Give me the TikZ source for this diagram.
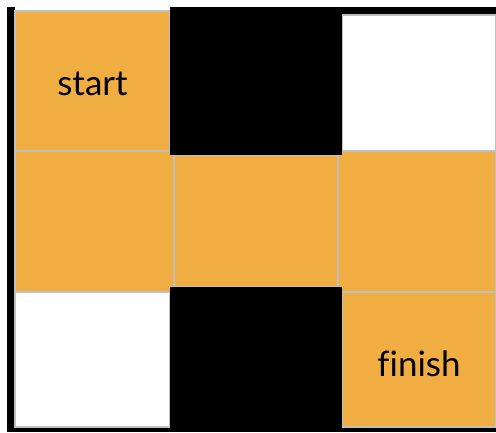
\documentclass[tikz,border=0pt]{standalone}
\usepackage{fontspec}
\setmainfont[Ligatures=NoCommon]{Lato}
\definecolor{cellorange}{HTML}{F0AD41}
\definecolor{gridgray}{HTML}{C0C0C0}
\begin{document}
\begin{tikzpicture}[x=1pt,y=-1pt,
  cellbox/.style={draw=gridgray, line width=1.2pt, inner sep=0pt, outer sep=0pt, rectangle},
  opencell/.style={cellbox, fill=cellorange},
  freecell/.style={cellbox, fill=white},
  wallcell/.style={fill=black, inner sep=0pt, outer sep=0pt, rectangle},
  celltext/.style={font=\fontsize{35}{40}\selectfont, anchor=base, inner sep=0pt}]
\useasboundingbox[fill=white] (0,0) rectangle (496,432);
% outer frame
\node[wallcell, minimum width=8pt, minimum height=425pt] (leftbar) at (11,219.5) {};
\node[wallcell, minimum width=326pt, minimum height=8pt] (topbar) at (333,11) {};
\node[wallcell, minimum width=489pt, minimum height=5pt] (bottombar) at (251.5,429.5) {};
% cells
\node[opencell, minimum width=155pt, minimum height=140pt] (c11) at (92.5,81) {};
\node[freecell, minimum width=154pt, minimum height=136pt] (c13) at (419,83) {};
\node[opencell, minimum width=159pt, minimum height=141pt] (c21) at (94.5,221.5) {};
\node[opencell, minimum width=158pt, minimum height=141pt] (c23) at (417,221.5) {};
\node[opencell, minimum width=164pt, minimum height=132pt] (c22) at (256,221) {};
\node[freecell, minimum width=155pt, minimum height=135pt] (c31) at (92.5,359.5) {};
\node[opencell, minimum width=154pt, minimum height=135pt] (c33) at (419,359.5) {};
% walls
\node[wallcell, minimum width=172pt, minimum height=148pt] (c12) at (256,81) {};
\node[wallcell, minimum width=172pt, minimum height=145pt] (c32) at (256,359.5) {};
% labels
\node[celltext] (lstart) at (92.5,95) {start};
\node[celltext] (lfinish) at (419,376) {finish};
\end{tikzpicture}
\end{document}
